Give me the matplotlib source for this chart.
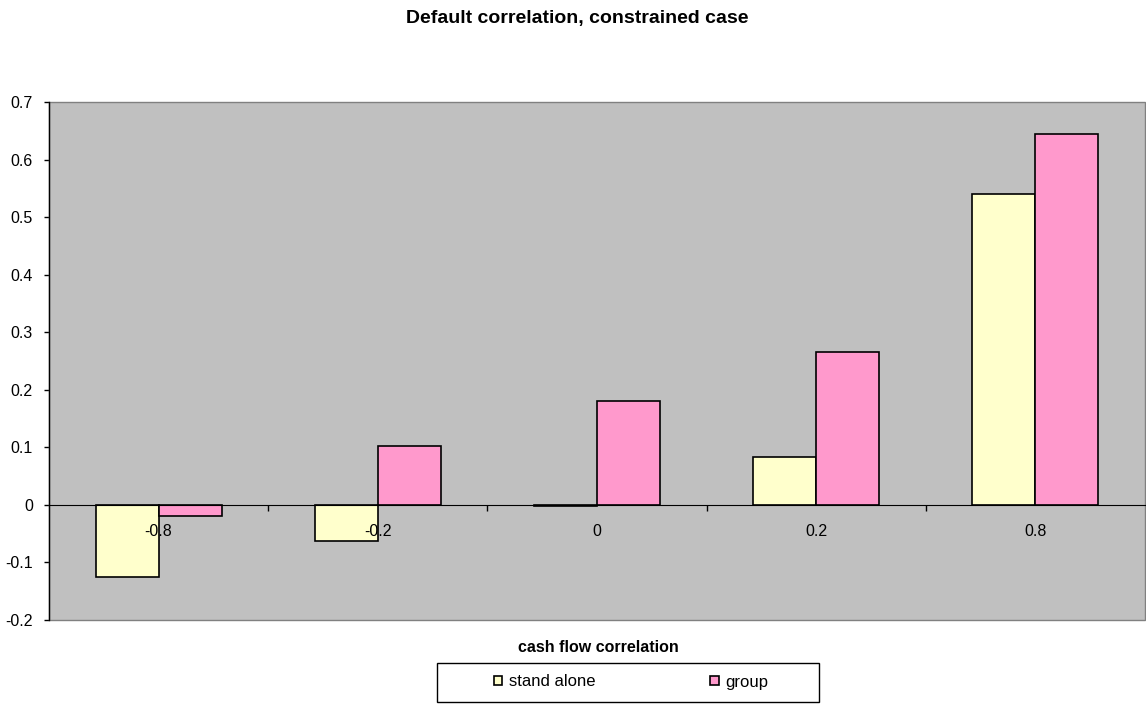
import numpy as np
import matplotlib.pyplot as plt
from matplotlib.patches import Rectangle

plt.rcParams['font.family'] = ['Liberation Sans', 'DejaVu Sans']

# data
categories = ['-0.8', '-0.2', '0', '0.2', '0.8']
stand_alone = [-0.126, -0.062, -0.002, 0.084, 0.540]
group = [-0.019, 0.103, 0.180, 0.265, 0.644]

fig = plt.figure(figsize=(11.46, 7.04), dpi=100)
ax = fig.add_axes([49 / 1146, 1 - 620 / 704, 1096 / 1146, 518 / 704])
ax.set_facecolor('#C0C0C0')

x = np.arange(len(categories))
w = 0.287
ax.bar(x - w / 2, stand_alone, w, color='#FFFFCC', edgecolor='black', linewidth=1.2,
       label='stand alone', zorder=3)
ax.bar(x + w / 2, group, w, color='#FF99CC', edgecolor='black', linewidth=1.2,
       label='group', zorder=3)

ax.set_xlim(-0.5, len(categories) - 0.5)
ax.set_ylim(-0.2, 0.7)
ax.set_yticks(np.arange(-0.2, 0.71, 0.1))
ax.set_yticklabels(['-0.2', '-0.1', '0', '0.1', '0.2', '0.3', '0.4', '0.5', '0.6', '0.7'])
ax.tick_params(axis='y', labelsize=11.5, length=3.6, width=1, color='black', pad=8)

# category axis sits on the zero line, ticks between categories
for s in ['top', 'right']:
    ax.spines[s].set_visible(False)
ax.spines['bottom'].set_position(('data', 0))
ax.spines['bottom'].set_color('black')
ax.spines['bottom'].set_zorder(4)
ax.spines['left'].set_color('black')
ax.spines['left'].set_linewidth(1)
ax.set_xticks(np.arange(0.5, len(categories) - 0.5, 1.0))
ax.set_xticklabels([])
ax.tick_params(axis='x', which='major', length=4, width=1, direction='out')

# category labels drawn over the bars, just under the zero line
for xi, lab in zip(x, categories):
    ax.annotate(lab, (xi, 0), xytext=(0, -19), textcoords='offset pixels',
                ha='center', va='top', fontsize=11.5, zorder=6)

ax.add_patch(Rectangle((0, 0), 1, 1, transform=ax.transAxes, fill=False,
                       edgecolor='#808080', linewidth=1, clip_on=False, zorder=2))

fig.text(577 / 1146, 1 - 19 / 704, 'Default correlation, constrained case', ha='center', va='center',
         fontsize=14, fontweight='bold')
fig.text(598 / 1146, 1 - 647 / 704, 'cash flow correlation', ha='center', va='center',
         fontsize=11.5, fontweight='bold')

# legend box
fig.patches.append(Rectangle((437 / 1146, 2 / 704), 382 / 1146, 39 / 704,
                             transform=fig.transFigure, fill=True, facecolor='white',
                             edgecolor='black', linewidth=1))
fig.legend(loc='center', bbox_to_anchor=(631 / 1146, 1 - 682 / 704), ncol=2,
           fontsize=12, frameon=False, handlelength=0.5, handleheight=0.5,
           handletextpad=0.4, columnspacing=6.9)

fig.savefig('out.png', dpi=100)
